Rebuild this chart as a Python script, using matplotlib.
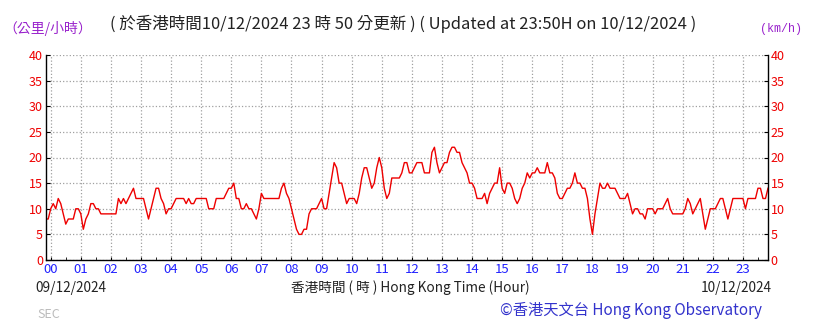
import numpy as np
import matplotlib
matplotlib.use('Agg')
import matplotlib.pyplot as plt

plt.rcParams['font.family'] = ['Noto Sans CJK TC', 'DejaVu Sans']

# 5-minute wind speed (km/h), 23:50 on 09/12 to 23:50 on 10/12
speed = [
    8, 8,                                            # 23:50, 23:55
    10, 11, 10, 12, 11, 9, 7, 8, 8, 8, 10, 10,       # 00
    9, 6, 8, 9, 11, 11, 10, 10, 9, 9, 9, 9,          # 01
    9, 9, 9, 12, 11, 12, 11, 12, 13, 14, 12, 12,     # 02
    12, 12, 10, 8, 10, 12, 14, 14, 12, 11, 9, 10,    # 03
    10, 11, 12, 12, 12, 12, 11, 12, 11, 11, 12, 12,  # 04
    12, 12, 12, 10, 10, 10, 12, 12, 12, 12, 13, 14,  # 05
    14, 15, 12, 12, 10, 10, 11, 10, 10, 9, 8, 10,    # 06
    13, 12, 12, 12, 12, 12, 12, 12, 14, 15, 13, 12,  # 07
    10, 8, 6, 5, 5, 6, 6, 9, 10, 10, 10, 11,         # 08
    12, 10, 10, 13, 16, 19, 18, 15, 15, 13, 11, 12,  # 09
    12, 12, 11, 13, 16, 18, 18, 16, 14, 15, 18, 20,  # 10
    18, 14, 12, 13, 16, 16, 16, 16, 17, 19, 19, 17,  # 11
    17, 18, 19, 19, 19, 17, 17, 17, 21, 22, 19, 17,  # 12
    18, 19, 19, 21, 22, 22, 21, 21, 19, 18, 17, 15,  # 13
    15, 14, 12, 12, 12, 13, 11, 13, 14, 15, 15, 18,  # 14
    14, 13, 15, 15, 14, 12, 11, 12, 14, 15, 17, 16,  # 15
    17, 17, 18, 17, 17, 17, 19, 17, 17, 16, 13, 12,  # 16
    12, 13, 14, 14, 15, 17, 15, 15, 14, 14, 12, 8,   # 17
    5, 9, 12, 15, 14, 14, 15, 14, 14, 14, 13, 12,    # 18
    12, 12, 13, 11, 9, 10, 10, 9, 9, 8, 10, 10,      # 19
    10, 9, 10, 10, 10, 11, 12, 10, 9, 9, 9, 9,       # 20
    9, 10, 12, 11, 9, 10, 11, 12, 9, 6, 8, 10,       # 21
    10, 10, 11, 12, 12, 10, 8, 10, 12, 12, 12, 12,   # 22
    12, 10, 12, 12, 12, 12, 14, 14, 12, 12, 14,      # 23
]
hours = np.arange(-2, len(speed) - 2) * 5 / 60.0

hour_labels = ['%02d' % h for h in range(24)]
y_ticks = list(range(0, 41, 5))

fig = plt.figure(figsize=(8.19, 3.23), dpi=100)
ax = fig.add_axes([45.7 / 819, 1 - 260 / 323, (768 - 45.7) / 819, 205 / 323])

ax.plot(hours, speed, color='#ee0000', lw=1.0)

ax.set_xlim(-1 / 6, 23 + 5 / 6)
ax.set_ylim(0, 40)
ax.set_xticks(range(24))
ax.set_xticklabels(hour_labels, color='#2222ff', fontsize=9.5)
ax.set_xticks(np.arange(0.5, 24, 0.5), minor=True)
ax.set_yticks(y_ticks)
ax.tick_params(axis='y', colors='#ee0000', labelsize=9, direction='in', length=3,
               left=True, right=True, labelleft=True, labelright=True, pad=2)
ax.tick_params(axis='y', color='black')
ax.tick_params(axis='x', which='both', direction='in', length=2, color='black', pad=2)
ax.grid(True, which='major', color='#a0a0a0', linestyle=':', linewidth=0.9)
ax.spines['top'].set_visible(False)
for s in ('left', 'right', 'bottom'):
    ax.spines[s].set_linewidth(1.0)

fig.text(3 / 819, 1 - 29 / 323, '（公里/小時）', color='#9922cc', fontsize=10, va='center')
fig.text(403 / 819, 1 - 24 / 323,
         '( 於香港時間10/12/2024 23 時 50 分更新 ) ( Updated at 23:50H on 10/12/2024 )',
         color='#222222', fontsize=11.9, ha='center', va='center')
fig.text(781 / 819, 1 - 29 / 323, '(km/h)', color='#9922cc', fontsize=8.5, ha='center',
         va='center', family='Liberation Mono')
fig.text(35 / 819, 1 - 288 / 323, '09/12/2024', color='#222222', fontsize=9.8, va='center')
fig.text(410 / 819, 1 - 288 / 323, '香港時間 ( 時 ) Hong Kong Time (Hour)', color='#222222',
         fontsize=9.8, ha='center', va='center')
fig.text(772 / 819, 1 - 288 / 323, '10/12/2024', color='#222222', fontsize=9.8, ha='right',
         va='center')
fig.text(631 / 819, 1 - 310 / 323, '©香港天文台 Hong Kong Observatory', color='#3333cc',
         fontsize=11, ha='center', va='center')
fig.text(37 / 819, 1 - 315 / 323, 'SEC', color='#bbbbbb', fontsize=9, va='center')

fig.savefig('out.png', dpi=100)
